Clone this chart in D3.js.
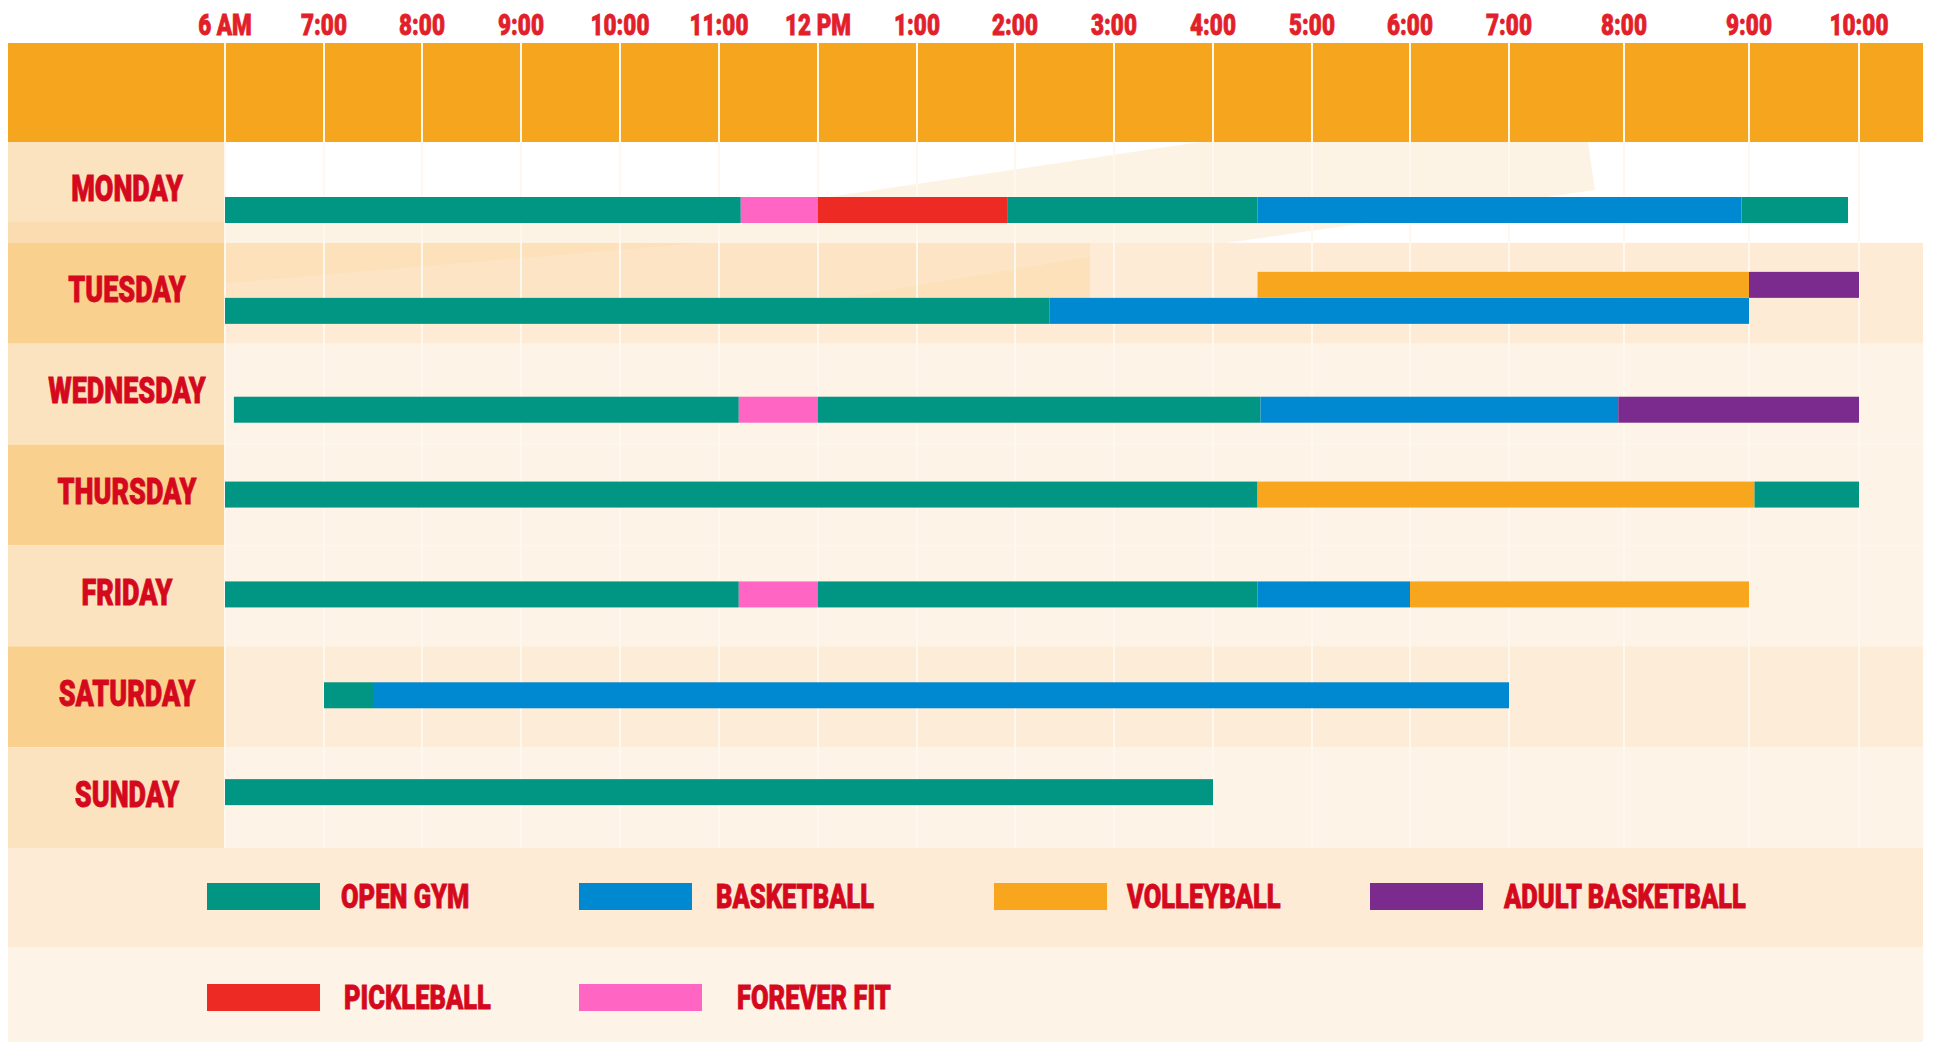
<!DOCTYPE html>
<html>
<head>
<meta charset="utf-8">
<script src="https://cdn.jsdelivr.net/npm/d3@7"></script>
<style>
  html, body { margin: 0; padding: 0; background: #fff; }
  svg { display: block; }
  text { font-family: Roboto, "Liberation Sans", sans-serif; font-weight: 900; }
</style>
</head>
<body>
<div id="chart"></div>
<script>
// ---- data ----
const days = ["MONDAY", "TUESDAY", "WEDNESDAY", "THURSDAY", "FRIDAY", "SATURDAY", "SUNDAY"];
const hourTicks = [6, 7, 8, 9, 10, 11, 12, 13, 14, 15, 16, 17, 18, 19, 20, 21, 22];
const hourLabels = ["6 AM", "7:00", "8:00", "9:00", "10:00", "11:00", "12 PM", "1:00", "2:00",
                    "3:00", "4:00", "5:00", "6:00", "7:00", "8:00", "9:00", "10:00"];
const activities = ["OPEN GYM", "BASKETBALL", "VOLLEYBALL", "ADULT BASKETBALL", "PICKLEBALL", "FOREVER FIT"];
const activityColors = ["#009683", "#0088d1", "#f7a61d", "#7b2a8e", "#ee2a25", "#ff66c4"];

// sessions: [activity, start hour, end hour]  (tuesdayUpper = the upper bar on tuesday)
const monday = [["OPEN GYM", 6, 11.22], ["FOREVER FIT", 11.22, 12], ["PICKLEBALL", 12, 13.92],
                ["OPEN GYM", 13.92, 16.45], ["BASKETBALL", 16.45, 20.94], ["OPEN GYM", 20.94, 21.9]];
const tuesday = [["OPEN GYM", 6, 14.35], ["BASKETBALL", 14.35, 21]];
const tuesdayUpper = [["VOLLEYBALL", 16.45, 21], ["ADULT BASKETBALL", 21, 22]];
const wednesday = [["OPEN GYM", 6.09, 11.2], ["FOREVER FIT", 11.2, 12], ["OPEN GYM", 12, 16.48],
                   ["BASKETBALL", 16.48, 19.95], ["ADULT BASKETBALL", 19.95, 22]];
const thursday = [["OPEN GYM", 6, 16.45], ["VOLLEYBALL", 16.45, 21.05], ["OPEN GYM", 21.05, 22]];
const friday = [["OPEN GYM", 6, 11.2], ["FOREVER FIT", 11.2, 12], ["OPEN GYM", 12, 16.45],
                ["BASKETBALL", 16.45, 18], ["VOLLEYBALL", 18, 21]];
const saturday = [["OPEN GYM", 7, 7.5], ["BASKETBALL", 7.5, 19]];
const sunday = [["OPEN GYM", 6, 16]];

// ---- layout ----
const width = 1933, height = 1042;
const left = 8, right = 1923, labelRight = 225;
const headerTop = 43, rowsTop = 142, rowsBottom = 848, legendMid = 947;
// hour columns are not all the same width in the original
const hourEdgeX = [225, 324, 422, 521, 620, 719, 818, 917, 1015, 1114, 1213, 1312, 1410, 1509, 1624, 1749, 1859];
const barH = 26;
const barOffset = [55, 55, 53, 37, 36, 36, 32];
const labelFill = ["#fce3bf", "#fad08e", "#fce3bf", "#fad08e", "#fce3bf", "#fad08e", "#fce3bf"];
const rowFill = ["#ffffff", "#fdebd5", "#fdf4e7", "#fdf4e7", "#fdf4e7", "#fdecd8", "#fdf4e7"];
const legendX = [207, 579, 994, 1370, 207, 579];
const legendY = [896, 896, 896, 896, 997, 997];
const legendW = [113, 113, 113, 113, 113, 123];
const legendGap = [21, 24, 20, 21, 24, 35];
const textRed = "#d4091d";

const svg = d3.select("#chart")
    .append("svg")
    .attr("width", width)
    .attr("height", height);

const xScale = d3.scaleLinear()
    .domain(hourTicks)
    .range(hourEdgeX);

const yScale = d3.scaleBand()
    .domain(days)
    .range([rowsTop, rowsBottom]);

const color = d3.scaleOrdinal()
    .domain(activities)
    .range(activityColors);

// squeezed heavy text, the original uses a condensed display face
function label(g, txt, x, y, size, anchor, fill) {
    g.append("text")
        .attr("transform", `translate(${x},${y}) scale(0.75,1)`)
        .attr("text-anchor", anchor)
        .attr("font-size", size)
        .attr("fill", fill)
        .attr("stroke", fill)
        .attr("stroke-width", 0.8)
        .text(txt);
}

// ---- backgrounds ----
svg.append("rect")
    .attr("x", left).attr("y", headerTop)
    .attr("width", right - left).attr("height", rowsTop - headerTop)
    .attr("fill", "#f6a61e");

svg.selectAll("rect.labelcell")
    .data(days)
    .join("rect")
    .attr("class", "labelcell")
    .attr("x", left)
    .attr("y", d => yScale(d))
    .attr("width", labelRight - left)
    .attr("height", yScale.bandwidth())
    .attr("fill", (d, i) => labelFill[i]);

svg.selectAll("rect.rowcell")
    .data(days)
    .join("rect")
    .attr("class", "rowcell")
    .attr("x", labelRight)
    .attr("y", d => yScale(d))
    .attr("width", right - labelRight)
    .attr("height", yScale.bandwidth())
    .attr("fill", (d, i) => rowFill[i]);

// decorative light wedges in the top rows
svg.append("path")
    .attr("d", "M1200,142 L1588,142 L1595,190 L1226,243 L225,243 L225,223 L653,223 Z")
    .attr("fill", "#fdf3e5");
svg.append("rect")
    .attr("x", left).attr("y", 222)
    .attr("width", labelRight - left).attr("height", 21)
    .attr("fill", "#fbdcb0");
svg.append("rect")
    .attr("x", labelRight).attr("y", 243)
    .attr("width", 1090 - labelRight).attr("height", 55)
    .attr("fill", "#fce1bb");
svg.append("path")
    .attr("d", "M225,283 L700,243 L1090,243 L1090,257 L842,298 L225,298 Z")
    .attr("fill", "#fde6c8")
    .attr("opacity", 0.7);

// legend bands
svg.append("rect")
    .attr("x", left).attr("y", rowsBottom)
    .attr("width", right - left).attr("height", legendMid - rowsBottom)
    .attr("fill", "#fdebd6");
svg.append("rect")
    .attr("x", left).attr("y", legendMid)
    .attr("width", right - left).attr("height", height - legendMid)
    .attr("fill", "#fdf4e7");

// ---- gridlines ----
svg.append("g")
    .selectAll("line")
    .data(hourTicks)
    .join("line")
    .attr("x1", d => xScale(d))
    .attr("x2", d => xScale(d))
    .attr("y1", headerTop)
    .attr("y2", rowsBottom)
    .attr("stroke", "#fff8ee")
    .attr("stroke-width", 2);

// ---- hour labels ----
const timeG = svg.append("g");
hourTicks.forEach((h, i) => label(timeG, hourLabels[i], xScale(h), 35, 30, "middle", "#e2202a"));

// ---- day labels ----
const dayG = svg.append("g");
days.forEach(d => label(dayG, d, 127, yScale(d) + yScale.bandwidth() / 2 + 9, 36, "middle", textRed));

// ---- bars ----
const schedule = [
    { day: "MONDAY", lane: 0, sessions: monday },
    { day: "TUESDAY", lane: 0, sessions: tuesday },
    { day: "TUESDAY", lane: 1, sessions: tuesdayUpper },
    { day: "WEDNESDAY", lane: 0, sessions: wednesday },
    { day: "THURSDAY", lane: 0, sessions: thursday },
    { day: "FRIDAY", lane: 0, sessions: friday },
    { day: "SATURDAY", lane: 0, sessions: saturday },
    { day: "SUNDAY", lane: 0, sessions: sunday }
];

const bars = schedule.flatMap(r => r.sessions.map(s => ({
    day: r.day, lane: r.lane, act: s[0], start: s[1], end: s[2]
})));

svg.append("g")
    .selectAll("rect")
    .data(bars)
    .join("rect")
    .attr("x", d => xScale(d.start))
    .attr("y", d => yScale(d.day) + barOffset[days.indexOf(d.day)] - d.lane * barH)
    .attr("width", d => xScale(d.end) - xScale(d.start))
    .attr("height", barH)
    .attr("fill", d => color(d.act));

// ---- legend ----
const legendG = svg.append("g");
activities.forEach((a, i) => {
    legendG.append("rect")
        .attr("x", legendX[i]).attr("y", legendY[i] - 13)
        .attr("width", legendW[i]).attr("height", 27)
        .attr("fill", color(a));
    label(legendG, a, legendX[i] + legendW[i] + legendGap[i], legendY[i] + 12, 34, "start", textRed);
});
</script>
</body>
</html>
